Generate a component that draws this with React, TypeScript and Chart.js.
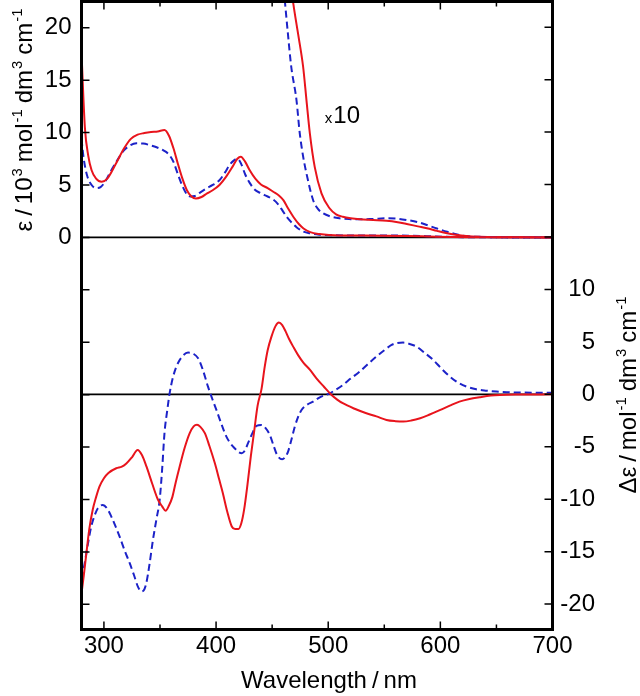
import React, { useEffect, useRef } from "react";
import { Chart, registerables } from "chart.js";

Chart.register(...registerables);

const FONT = '"Liberation Sans", Arial, Helvetica, sans-serif';
const RED = "#e8141c";
const BLUE = "#1c22c8";

// ---- Absorption (ε / 10^3), left axis ----
const absRedNm = [280, 283, 286, 289, 293, 298, 303, 311, 318, 324, 330, 336, 342, 348, 354, 358, 362, 366, 370, 374, 378, 382, 387, 392, 397, 403, 409, 415, 419, 422, 426, 430, 435, 440, 446, 451, 456, 460, 464, 469, 474, 478, 484, 492, 510, 530, 550, 570, 590, 610, 630, 700];
const absRedEps = [17.6, 10.5, 7.8, 6.4, 5.6, 5.3, 5.6, 7.1, 8.5, 9.4, 9.8, 9.95, 10.05, 10.1, 10.25, 9.7, 8.5, 7.0, 5.6, 4.5, 3.9, 3.7, 3.85, 4.2, 4.5, 5.0, 5.8, 6.8, 7.5, 7.7, 7.2, 6.4, 5.6, 5.05, 4.7, 4.35, 4.0, 3.55, 2.8, 1.95, 1.25, 0.85, 0.5, 0.32, 0.18, 0.17, 0.16, 0.13, 0.08, 0.03, 0.01, 0];

const absBlueNm = [280, 282, 285, 289, 293, 297, 301, 305, 311, 317, 323, 329, 335, 341, 347, 353, 358, 362, 366, 370, 374, 377, 381, 386, 391, 397, 403, 408, 412, 416, 419, 422, 426, 430, 434, 440, 446, 451, 455, 459, 463, 468, 472, 478, 484, 492, 505, 530, 560, 575, 590, 605, 620, 640, 700];
const absBlueEps = [9.4, 7.5, 5.9, 5.0, 4.7, 4.8, 5.3, 6.1, 7.2, 8.2, 8.75, 8.97, 8.95, 8.8, 8.6, 8.3, 7.9, 7.2, 6.0, 4.9, 4.1, 3.9, 3.95, 4.3, 4.65, 5.0, 5.45, 6.2, 6.9, 7.35, 7.5, 7.1, 6.0, 5.2, 4.6, 4.2, 3.9, 3.6, 3.2, 2.6, 1.95, 1.35, 0.95, 0.55, 0.38, 0.26, 0.2, 0.18, 0.18, 0.16, 0.11, 0.05, 0.02, 0.005, 0];

// ×10 expanded traces
const absRedX10Nm = [460, 465, 469, 473, 477.6, 480.6, 483.6, 488, 494, 501, 507, 513, 520, 528, 540, 552, 562, 570, 580, 588, 597, 606, 615, 623, 635, 650, 670, 700];
const absRedX10Eps = [30.5, 25.5, 22.2, 19.5, 16.3, 13.1, 9.95, 6.7, 4.2, 2.8, 2.2, 1.97, 1.82, 1.72, 1.66, 1.59, 1.45, 1.28, 1.05, 0.87, 0.62, 0.39, 0.22, 0.13, 0.06, 0.02, 0.01, 0];

const absBlueX10Nm = [455, 461.3, 464, 467, 471.7, 474.6, 477.5, 480.6, 486.5, 491, 495.4, 502, 510, 520, 528, 540, 552, 562, 570, 580, 588, 597, 606, 615, 623, 635, 650, 700];
const absBlueX10Eps = [30, 22.6, 19.5, 16.3, 13.1, 9.95, 7.8, 6.1, 3.57, 2.7, 2.3, 2.0, 1.82, 1.74, 1.72, 1.76, 1.82, 1.78, 1.66, 1.45, 1.18, 0.85, 0.54, 0.28, 0.13, 0.05, 0.02, 0];

// ---- CD (Δε), right axis ----
const cdRedNm = [280, 282, 284.3, 287, 290, 293, 296, 300, 304, 311, 316, 320, 325, 330, 334, 338, 343, 348, 352, 355, 358, 361, 364, 367.5, 372, 376.5, 380, 383, 386, 390, 394, 399, 403, 406, 410, 414, 417, 420, 422.5, 425, 428, 431, 434, 437, 440.5, 443.4, 446, 449.4, 453, 456, 459, 462, 465, 469, 473, 478, 483.6, 489.5, 496, 503, 508, 513, 523, 534, 543, 552, 560, 567, 574, 582, 590, 600, 609, 617, 626, 635, 645, 653, 670, 700];
const cdRedDe = [-19.0, -17.3, -15.2, -12.8, -11.0, -9.8, -8.8, -8.0, -7.5, -7.05, -6.9, -6.6, -6.0, -5.3, -5.8, -6.9, -8.5, -10.0, -10.7, -11.1, -10.6, -9.8, -8.4, -6.9, -5.1, -3.7, -3.05, -2.9, -3.1, -3.7, -4.9, -6.6, -8.2, -9.4, -11.2, -12.6, -12.85, -12.85, -12.3, -11.0, -8.6, -5.9, -3.5, -1.1, 0.5, 2.64, 4.2, 5.5, 6.5, 6.85, 6.6, 6.0, 5.3, 4.5, 3.76, 3.0, 2.35, 1.53, 0.75, -0.06, -0.5, -0.85, -1.35, -1.8, -2.1, -2.44, -2.56, -2.6, -2.5, -2.28, -1.95, -1.49, -1.05, -0.7, -0.45, -0.28, -0.12, -0.06, -0.02, 0];

const cdBlueNm = [280, 282.5, 284.3, 286.5, 288.7, 291.5, 294.6, 299, 303, 306.6, 310, 314, 318.5, 323, 327, 330.3, 333.4, 336, 337.8, 340.5, 343.7, 347, 349.7, 352, 354, 356.5, 358.6, 361.5, 364.6, 369, 375, 380, 384, 388, 392.8, 396.5, 400.3, 405, 409.2, 413, 416.6, 420, 423, 426, 428.5, 432, 436, 440.5, 444, 447.9, 451, 454.4, 458.9, 461.5, 464.2, 467, 470.2, 473, 476.2, 481, 486.5, 492.5, 501.4, 507, 513.3, 520, 528, 535, 543, 550, 556.5, 561, 566.8, 572, 578.8, 586, 593.6, 601, 608.5, 616, 623.4, 632, 641.3, 650, 659, 670, 682.6, 700];
const cdBlueDe = [-17.6, -16.3, -15.15, -13.8, -12.6, -11.6, -10.86, -10.54, -10.9, -11.66, -12.5, -13.57, -14.9, -16.1, -17.3, -18.33, -18.8, -18.6, -18.0, -16.3, -13.88, -11.8, -10.07, -7.0, -3.7, -1.5, 0.1, 1.6, 2.64, 3.5, 3.98, 3.85, 3.44, 2.4, 0.73, -0.4, -1.49, -2.9, -4.03, -4.7, -5.14, -5.5, -5.62, -5.3, -4.66, -3.8, -3.01, -2.92, -3.2, -3.87, -4.8, -5.78, -6.19, -6.0, -5.46, -4.4, -3.08, -2.2, -1.49, -1.0, -0.7, -0.28, 0.1, 0.45, 0.9, 1.5, 2.16, 2.85, 3.6, 4.2, 4.71, 4.88, 4.93, 4.82, 4.55, 3.95, 3.28, 2.45, 1.69, 1.1, 0.73, 0.48, 0.35, 0.26, 0.2, 0.17, 0.16, 0.15];

// ---- ticks ----
const xMajorTicks = [300, 400, 500, 600, 700];
const xMinorTicks = [350, 450, 550, 650];
const epsTicks = [-35, -30, -25, -20, -15, -10, -5, 0, 5, 10, 15, 20];
const epsLabelled = [0, 5, 10, 15, 20];
const cdTicks = [-20, -15, -10, -5, 0, 5, 10, 15, 20, 25, 30, 35];
const cdLabelled = [-20, -15, -10, -5, 0, 5, 10];

const xTitle = "Wavelength";
const xUnit = "nm";
const scaleNote = { x: "x", n: "10", nm: 497, eps: 10.9 };

type Seg = { t: string; sup?: boolean; gap?: number };
const leftTitle: Seg[] = [
  { t: "ε" }, { t: "/", gap: 5 }, { t: "10", gap: 5 }, { t: "3", sup: true, gap: 1 },
  { t: "mol", gap: 6 }, { t: "-1", sup: true, gap: 1 }, { t: "dm", gap: 6 },
  { t: "3", sup: true, gap: 1 }, { t: "cm", gap: 6 }, { t: "-1", sup: true, gap: 1 },
];
const rightTitle: Seg[] = [
  { t: "Δε" }, { t: "/", gap: 5 }, { t: "mol", gap: 5 }, { t: "-1", sup: true, gap: 1 },
  { t: "dm", gap: 6 }, { t: "3", sup: true, gap: 1 }, { t: "cm", gap: 6 }, { t: "-1", sup: true, gap: 1 },
];
const bottomTitle: Seg[] = [{ t: xTitle }, { t: "/", gap: 5 }, { t: xUnit, gap: 5 }];

const pts = (xs: number[], ys: number[]) => xs.map((x, i) => ({ x, y: ys[i] }));

function drawRich(ctx: CanvasRenderingContext2D, segs: Seg[], cx: number, cy: number, size: number, angle: number) {
  const supSize = size * 0.62;
  let total = 0;
  const widths = segs.map((s) => {
    ctx.font = `${s.sup ? supSize : size}px ${FONT}`;
    const w = ctx.measureText(s.t).width;
    total += w + (s.gap || 0);
    return w;
  });
  ctx.save();
  ctx.translate(cx, cy);
  ctx.rotate(angle);
  ctx.fillStyle = "#000";
  ctx.textBaseline = "alphabetic";
  ctx.textAlign = "left";
  let x = -total / 2;
  segs.forEach((s, i) => {
    x += s.gap || 0;
    ctx.font = `${s.sup ? supSize : size}px ${FONT}`;
    ctx.fillText(s.t, x, s.sup ? -size * 0.42 : 0);
    x += widths[i];
  });
  ctx.restore();
}

const framePlugin = {
  id: "frame",
  beforeDatasetsDraw(chart: any) {
    const { ctx, chartArea: a, scales } = chart;
    ctx.save();
    ctx.strokeStyle = "#000";
    ctx.lineWidth = 1.6;
    [scales.yL.getPixelForValue(0), scales.yR.getPixelForValue(0)].forEach((y: number) => {
      ctx.beginPath();
      ctx.moveTo(a.left, y);
      ctx.lineTo(a.right, y);
      ctx.stroke();
    });
    ctx.restore();
  },
  afterDatasetsDraw(chart: any) {
    const { ctx, chartArea: a, scales } = chart;
    const xs = scales.x, yl = scales.yL, yr = scales.yR;
    ctx.save();
    ctx.strokeStyle = "#000";
    ctx.lineWidth = 1.5;
    const major = 8, minor = 5;
    ctx.beginPath();
    xMajorTicks.forEach((v) => {
      const px = xs.getPixelForValue(v);
      ctx.moveTo(px, a.bottom); ctx.lineTo(px, a.bottom - major);
      ctx.moveTo(px, a.top); ctx.lineTo(px, a.top + major);
    });
    xMinorTicks.forEach((v) => {
      const px = xs.getPixelForValue(v);
      ctx.moveTo(px, a.bottom); ctx.lineTo(px, a.bottom - minor);
      ctx.moveTo(px, a.top); ctx.lineTo(px, a.top + minor);
    });
    epsTicks.forEach((v) => {
      const py = yl.getPixelForValue(v);
      ctx.moveTo(a.left, py); ctx.lineTo(a.left + major, py);
    });
    cdTicks.forEach((v) => {
      const py = yr.getPixelForValue(v);
      ctx.moveTo(a.right, py); ctx.lineTo(a.right - major, py);
    });
    ctx.stroke();
    ctx.lineWidth = 3;
    ctx.strokeRect(a.left, a.top, a.right - a.left, a.bottom - a.top);
    ctx.restore();

    // annotation "x10"
    ctx.save();
    ctx.fillStyle = "#000";
    ctx.textBaseline = "alphabetic";
    ctx.textAlign = "left";
    const nx = xs.getPixelForValue(scaleNote.nm);
    const ny = yl.getPixelForValue(scaleNote.eps);
    ctx.font = `15px ${FONT}`;
    ctx.fillText(scaleNote.x, nx, ny);
    const wx = ctx.measureText(scaleNote.x).width;
    ctx.font = `24px ${FONT}`;
    ctx.fillText(scaleNote.n, nx + wx + 1, ny);
    ctx.restore();

    // axis titles
    drawRich(ctx, leftTitle, 32, 120, 24, -Math.PI / 2);
    drawRich(ctx, rightTitle, 636, 395, 24, -Math.PI / 2);
    drawRich(ctx, bottomTitle, 329, 688, 24, 0);
  },
};

function lineDs(label: string, xs: number[], ys: number[], color: string, axis: string, dashed: boolean) {
  return {
    label,
    data: pts(xs, ys),
    borderColor: color,
    backgroundColor: color,
    borderWidth: 2,
    borderDash: dashed ? [7, 4] : [],
    pointRadius: 0,
    yAxisID: axis,
    cubicInterpolationMode: "monotone" as const,
    fill: false,
  };
}

const tickFont = { family: FONT, size: 24 };
const zeroPad = (s: any) => {
  s.paddingTop = 0; s.paddingBottom = 0; s.paddingLeft = 0; s.paddingRight = 0;
};
const noGrid = { display: false, drawTicks: false, tickLength: 0 };

export default function App() {
  const ref = useRef<HTMLCanvasElement>(null);
  useEffect(() => {
    const chart = new Chart(ref.current as HTMLCanvasElement, {
      type: "line",
      data: {
        datasets: [
          lineDs("Abs A", absRedNm, absRedEps, RED, "yL", false),
          lineDs("Abs B", absBlueNm, absBlueEps, BLUE, "yL", true),
          lineDs("Abs A ×10", absRedX10Nm, absRedX10Eps, RED, "yL", false),
          lineDs("Abs B ×10", absBlueX10Nm, absBlueX10Eps, BLUE, "yL", true),
          lineDs("CD A", cdRedNm, cdRedDe, RED, "yR", false),
          lineDs("CD B", cdBlueNm, cdBlueDe, BLUE, "yR", true),
        ] as any,
      },
      options: {
        responsive: false,
        animation: false,
        devicePixelRatio: 1,
        events: [],
        layout: { padding: { top: 1.5, left: 0, right: 45, bottom: 0 } },
        plugins: { legend: { display: false }, tooltip: { enabled: false } },
        scales: {
          x: {
            type: "linear",
            position: "bottom",
            min: 280,
            max: 700,
            grid: noGrid,
            border: { display: false },
            afterBuildTicks: (s: any) => { s.ticks = xMajorTicks.map((v) => ({ value: v })); },
            afterFit: (s: any) => { s.height = 66.5; zeroPad(s); },
            ticks: { autoSkip: false, maxRotation: 0, padding: 2, color: "#000", font: tickFont, callback: (v: any) => String(v) },
          },
          yL: {
            type: "linear",
            position: "left",
            min: -37.4,
            max: 22.5,
            grid: noGrid,
            border: { display: false },
            afterBuildTicks: (s: any) => { s.ticks = epsTicks.map((v) => ({ value: v })); },
            afterFit: (s: any) => { s.width = 81.5; zeroPad(s); },
            ticks: { padding: 10, color: "#000", font: tickFont, callback: (v: any) => (epsLabelled.includes(v) ? String(v) : "") },
          },
          yR: {
            type: "linear",
            position: "right",
            min: -22.42,
            max: 37.45,
            grid: noGrid,
            border: { display: false },
            afterBuildTicks: (s: any) => { s.ticks = cdTicks.map((v) => ({ value: v })); },
            afterFit: (s: any) => { s.width = 42.5; zeroPad(s); },
            ticks: { padding: 8, crossAlign: "far", color: "#000", font: tickFont, callback: (v: any) => (cdLabelled.includes(v) ? String(v) : "") },
          },
        } as any,
      },
      plugins: [framePlugin],
    });
    return () => chart.destroy();
  }, []);
  return (
    <div style={{ position: "absolute", left: 0, top: 0, width: 640, height: 696, background: "#fff" }}>
      <canvas ref={ref} width={640} height={696} style={{ width: 640, height: 696, display: "block" }} />
    </div>
  );
}
